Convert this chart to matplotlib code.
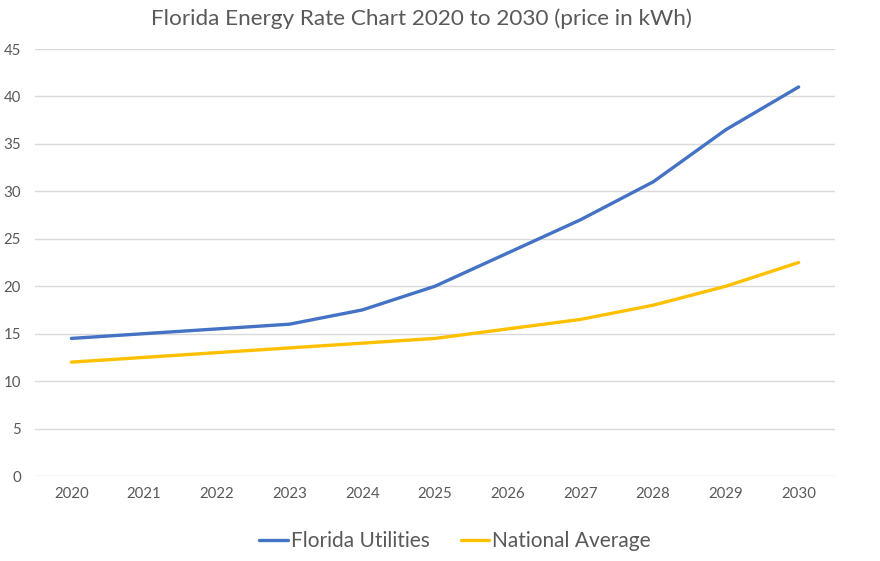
import matplotlib.pyplot as plt
import numpy as np

plt.rcParams["font.family"] = ["Lato", "DejaVu Sans"]

years = ["2020", "2021", "2022", "2023", "2024", "2025", "2026", "2027", "2028", "2029", "2030"]
florida = [14.5, 15, 15.5, 16, 17.5, 20, 23.5, 27, 31, 36.5, 41]
national = [12, 12.5, 13, 13.5, 14, 14.5, 15.5, 16.5, 18, 20, 22.5]

fig = plt.figure(figsize=(8.8, 5.61), dpi=100)
ax = fig.add_axes([35/880, 85/561, 800/880, 427/561])

x = np.arange(len(years))
ax.plot(x, florida, color="#4472C4", lw=2.4, label="Florida Utilities", solid_capstyle="round")
ax.plot(x, national, color="#FFC000", lw=2.4, label="National Average", solid_capstyle="round")

ax.set_xlim(-0.5, len(years) - 0.5)
ax.set_ylim(0, 45)
ax.set_yticks(range(0, 46, 5))
ax.set_xticks(x)
ax.set_xticklabels(years)
ax.grid(axis="y", color="#D9D9D9", lw=1)
ax.set_axisbelow(True)
for s in ax.spines.values():
    s.set_visible(False)
ax.tick_params(length=0, labelsize=10.8, colors="#595959", pad=8)
ax.tick_params(axis="y", pad=10)

fig.text(0.479, 0.967, "Florida Energy Rate Chart 2020 to 2030 (price in kWh)",
         ha="center", va="center", fontsize=16.2, color="#595959")

leg = ax.legend(loc="center", bbox_to_anchor=(0.525, -0.153), ncol=2, frameon=False,
                fontsize=15, handlelength=1.35, handletextpad=0.15, columnspacing=1.5)
for t in leg.get_texts():
    t.set_color("#595959")

fig.savefig("out.png", dpi=100)
